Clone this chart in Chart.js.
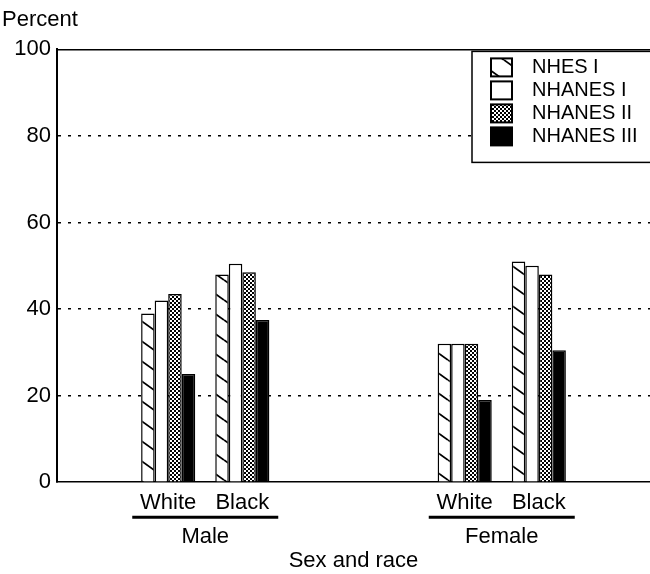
<!DOCTYPE html>
<html>
<head>
<meta charset="utf-8">
<script src="https://cdn.jsdelivr.net/npm/chart.js@4"></script>
<style>
    html, body { margin: 0; padding: 0; background: #ffffff; }
</style>
</head>
<body>
<canvas id="chart" width="650" height="574"></canvas>
<script>
// Categories: blank slots keep the spacing between the Male and Female groups
const categories = ["", "White", "Black", "", "", "White", "Black", ""];
const sexGroups = ["Male", "Female"];
const surveys = ["NHES I", "NHANES I", "NHANES II", "NHANES III"];

const nhesI = [null, 39, 48, null, null, 32, 51, null];
const nhanesI = [null, 42, 50.5, null, null, 32, 50, null];
const nhanesII = [null, 43.5, 48.5, null, null, 32, 48, null];
const nhanesIII = [null, 25, 37.5, null, null, 19, 30.5, null];

const yTicks = [0, 20, 40, 60, 80, 100];

const FONT = "'Liberation Sans', Arial, Helvetica, sans-serif";

function hatchPattern() {
    const c = document.createElement("canvas");
    c.width = 28;
    c.height = 20;
    const g = c.getContext("2d");
    g.fillStyle = "#ffffff";
    g.fillRect(0, 0, 28, 20);
    g.strokeStyle = "#000000";
    g.lineWidth = 1.8;
    for (let k = -1; k <= 1; k++) {
        g.beginPath();
        g.moveTo(0, k * 20);
        g.lineTo(28, k * 20 + 20);
        g.stroke();
    }
    return g.createPattern(c, "repeat");
}

function dotPattern() {
    const c = document.createElement("canvas");
    c.width = 4;
    c.height = 4;
    const g = c.getContext("2d");
    g.fillStyle = "#ffffff";
    g.fillRect(0, 0, 4, 4);
    g.fillStyle = "#000000";
    g.fillRect(0, 0, 2, 2);
    g.fillRect(2, 2, 2, 2);
    return g.createPattern(c, "repeat");
}

const fills = [hatchPattern(), "#ffffff", dotPattern(), "#000000"];
const seriesValues = [nhesI, nhanesI, nhanesII, nhanesIII];

// boxed legend in the top right corner of the plot
const boxLegend = {
    id: "boxLegend",
    afterDraw(chart) {
        const ctx = chart.ctx;
        const area = chart.chartArea;
        const left = area.right - 178;
        const top = area.top + 2;
        ctx.save();
        ctx.fillStyle = "#ffffff";
        ctx.fillRect(left, top, 200, 111);
        ctx.strokeStyle = "#000000";
        ctx.lineWidth = 1.5;
        ctx.strokeRect(left, top, 200, 111);
        ctx.font = "20px " + FONT;
        ctx.textBaseline = "middle";
        chart.data.datasets.forEach((ds, i) => {
            const cy = top + 16 + i * 23;
            ctx.fillStyle = ds.backgroundColor;
            ctx.fillRect(left + 19, cy - 9, 21, 18);
            ctx.lineWidth = 2;
            ctx.strokeRect(left + 19, cy - 9, 21, 18);
            ctx.fillStyle = "#000000";
            ctx.fillText(ds.label, left + 60, cy);
        });
        ctx.restore();
    },
};

// underline + sex labels under each White/Black pair
const sexLabels = {
    id: "sexLabels",
    afterDraw(chart) {
        const ctx = chart.ctx;
        const x = chart.scales.x;
        const base = chart.chartArea.bottom;
        const pairs = [[1, 2], [5, 6]];
        ctx.save();
        ctx.strokeStyle = "#000000";
        ctx.fillStyle = "#000000";
        ctx.lineWidth = 3;
        ctx.font = "22px " + FONT;
        ctx.textAlign = "center";
        ctx.textBaseline = "middle";
        pairs.forEach((p, i) => {
            const cx = (x.getPixelForValue(p[0]) + x.getPixelForValue(p[1])) / 2;
            ctx.beginPath();
            ctx.moveTo(cx - 73, base + 35);
            ctx.lineTo(cx + 73, base + 35);
            ctx.stroke();
            ctx.fillText(sexGroups[i], cx, base + 55);
        });
        ctx.restore();
    },
};

new Chart(document.getElementById("chart").getContext("2d"), {
    type: "bar",

    data: {
        labels: categories,

        datasets: surveys.map((name, i) => ({
            label: name,
            data: seriesValues[i],
            backgroundColor: fills[i],
            borderColor: "#000000",
            borderWidth: 1.5,
            categoryPercentage: 0.73,
            barPercentage: 1,
        })),
    },

    options: {
        responsive: false,
        animation: false,
        events: [],

        layout: {
            padding: { left: 2, right: 0, top: 0, bottom: 0 },
        },

        scales: {
            x: {
                grid: { display: false },
                border: { display: true, color: "#000000", width: 1.5 },
                ticks: {
                    color: "#000000",
                    font: { family: FONT, size: 22 },
                    padding: 0,
                    autoSkip: false,
                    maxRotation: 0,
                },
                title: {
                    display: true,
                    text: "Sex and race",
                    color: "#000000",
                    font: { family: FONT, size: 22 },
                    padding: { top: 31, bottom: 0 },
                },
            },
            x2: {
                type: "category",
                position: "top",
                grid: { display: false },
                ticks: { display: false },
                border: { display: true, color: "#000000", width: 1.5 },
            },
            y: {
                min: 0,
                max: 100,
                afterBuildTicks: (axis) => {
                    axis.ticks = yTicks.map((v) => ({ value: v }));
                },
                afterFit: (axis) => {
                    axis.width = 55;
                },
                grid: {
                    drawTicks: false,
                    color: (c) => (c.tick && (c.tick.value === 0 || c.tick.value === 100) ? "rgba(0,0,0,0)" : "#000000"),
                    lineWidth: 1.5,
                },
                border: { display: true, color: "#000000", width: 2, dash: [3, 7] },
                ticks: {
                    color: "#000000",
                    font: { family: FONT, size: 22 },
                    padding: 6,
                },
            },
        },

        plugins: {
            legend: { display: false },
            tooltip: { enabled: false },
            title: {
                display: true,
                text: "Percent",
                align: "start",
                color: "#000000",
                font: { family: FONT, size: 22, weight: "normal" },
                padding: { top: 7, bottom: 8 },
            },
        },
    },

    plugins: [boxLegend, sexLabels],
});
</script>
</body>
</html>
